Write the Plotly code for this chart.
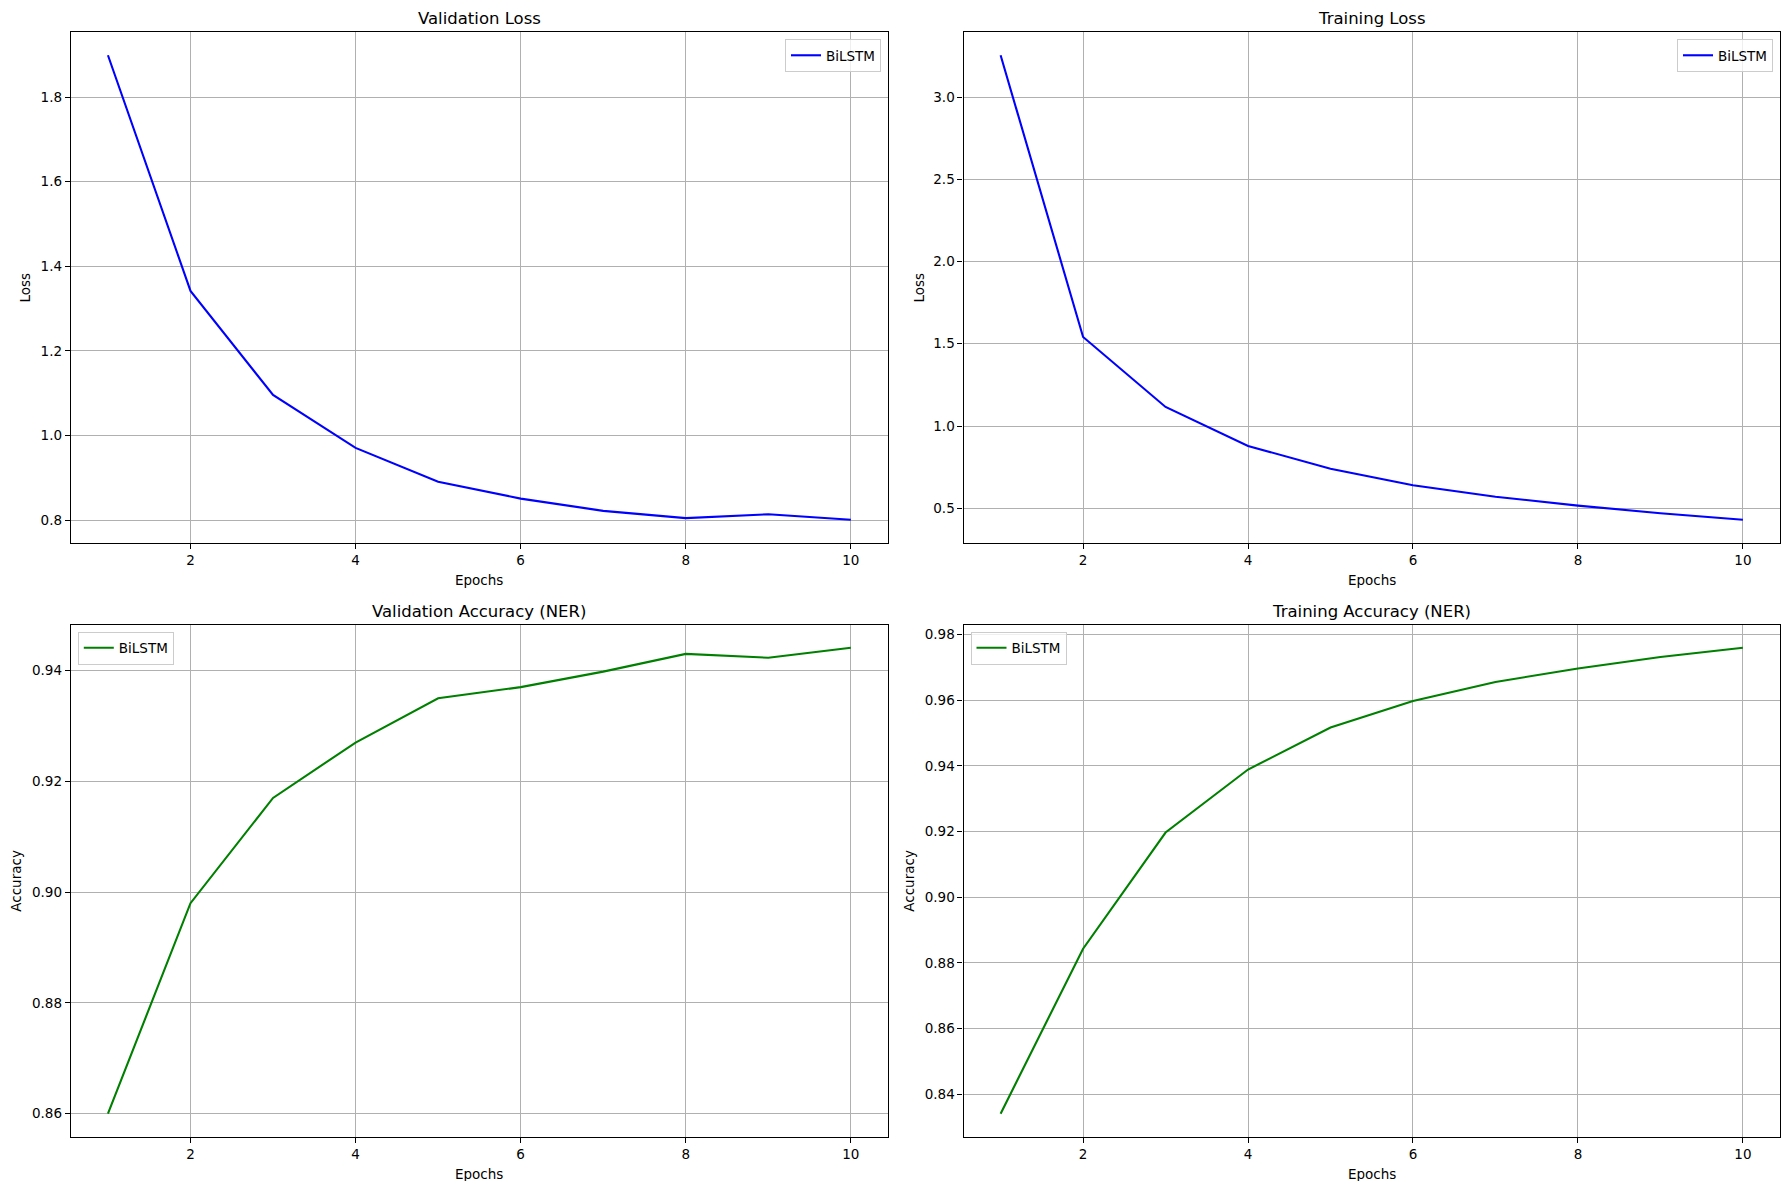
import plotly.graph_objects as go
from plotly.subplots import make_subplots

# values
epochs = [1, 2, 3, 4, 5, 6, 7, 8, 9, 10]
val_loss = [1.899, 1.342, 1.096, 0.971, 0.891, 0.851, 0.822, 0.805, 0.814, 0.801]
train_loss = [3.254, 1.541, 1.116, 0.879, 0.740, 0.640, 0.570, 0.516, 0.470, 0.430]
val_acc = [0.860, 0.898, 0.917, 0.927, 0.935, 0.937, 0.9398, 0.943, 0.9423, 0.9441]
train_acc = [0.834, 0.8843, 0.9197, 0.9389, 0.9517, 0.9598, 0.9656, 0.9697, 0.9732, 0.9760]

model_name = 'BiLSTM'
x_ticks = [2, 4, 6, 8, 10]

# the page body has an 8px margin, so the figure is shrunk and positions shifted
OFF = 8
W, H = 1790 - 2 * OFF, 1189 - 2 * OFF
FONT = 'DejaVu Sans'


def px_x(sx):
    return (sx - OFF) / W


def px_y(sy):
    return 1 - (sy - OFF) / H


def padded_range(vals, pad=0.05):
    '''
    Matplotlib style 5% margin around the data.
    '''
    lo, hi = min(vals), max(vals)
    span = hi - lo
    return [lo - span * pad, hi + span * pad]


fig = make_subplots(rows=2, cols=2)

# panel layout in screen pixels: (left, right, top, bottom)
panels = [
    dict(title='Validation Loss', y=val_loss, color='blue', ylab='Loss', dtick=0.2, fmt='.1f',
         box=(70.8, 888, 32, 543), ylab_x=25, legend='legend', row=1, col=1),
    dict(title='Training Loss', y=train_loss, color='blue', ylab='Loss', dtick=0.5, fmt='.1f',
         box=(963.5, 1780, 32, 543), ylab_x=919, legend='legend2', row=1, col=2),
    dict(title='Validation Accuracy (NER)', y=val_acc, color='green', ylab='Accuracy', dtick=0.02, fmt='.2f',
         box=(70.8, 888, 624.5, 1137), ylab_x=16, legend='legend3', row=2, col=1),
    dict(title='Training Accuracy (NER)', y=train_acc, color='green', ylab='Accuracy', dtick=0.02, fmt='.2f',
         box=(963.5, 1780, 624.5, 1137), ylab_x=909, legend='legend4', row=2, col=2),
]

axis_style = dict(showline=True, linecolor='black', linewidth=1.1, mirror=True,
                  showgrid=True, gridcolor='#b0b0b0', gridwidth=1.1,
                  ticks='outside', ticklen=5, tickwidth=1.1, tickcolor='black',
                  zeroline=False, tickfont=dict(family=FONT, size=13.5, color='black'))

annotations = []
legends = {}
for p in panels:
    fig.add_trace(go.Scatter(x=epochs, y=p['y'], mode='lines', name=model_name,
                             line=dict(color=p['color'], width=2.1),
                             legend=p['legend'], showlegend=True),
                  row=p['row'], col=p['col'])

    left, right, top, bottom = p['box']
    xdom = [px_x(left), px_x(right)]
    ydom = [px_y(bottom), px_y(top)]

    fig.update_xaxes(domain=xdom, range=[0.55, 10.45], tickvals=x_ticks,
                     row=p['row'], col=p['col'], **axis_style)
    fig.update_yaxes(domain=ydom, range=padded_range(p['y']), dtick=p['dtick'],
                     tickformat=p['fmt'], row=p['row'], col=p['col'], **axis_style)

    xmid = (xdom[0] + xdom[1]) / 2
    # title
    annotations.append(dict(text=p['title'], x=xmid, y=px_y(top - 13.5),
                            xref='paper', yref='paper', showarrow=False,
                            xanchor='center', yanchor='middle',
                            font=dict(family=FONT, size=16.5, color='black')))
    # x label
    annotations.append(dict(text='Epochs', x=xmid, y=px_y(bottom + 37),
                            xref='paper', yref='paper', showarrow=False,
                            xanchor='center', yanchor='middle',
                            font=dict(family=FONT, size=13.5, color='black')))
    # y label
    annotations.append(dict(text=p['ylab'], x=px_x(p['ylab_x']), y=(ydom[0] + ydom[1]) / 2,
                            xref='paper', yref='paper', showarrow=False, textangle=-90,
                            xanchor='center', yanchor='middle',
                            font=dict(family=FONT, size=13.5, color='black')))

    # legend box: upper right for loss, upper left for accuracy
    if p['ylab'] == 'Loss':
        lx, xa = px_x(right - 7), 'right'
    else:
        lx, xa = px_x(left + 7), 'left'
    legends[p['legend']] = dict(x=lx, xanchor=xa, y=px_y(top + 7), yanchor='top',
                                bgcolor='rgba(255,255,255,0.8)', bordercolor='#cccccc',
                                borderwidth=1, font=dict(family=FONT, size=13.5, color='black'),
                                itemwidth=30)

fig.update_layout(width=W, height=H, margin=dict(l=0, r=0, t=0, b=0),
                  plot_bgcolor='white', paper_bgcolor='white',
                  font=dict(family=FONT, color='black'),
                  annotations=annotations, **legends)

fig.write_html('out.html')
